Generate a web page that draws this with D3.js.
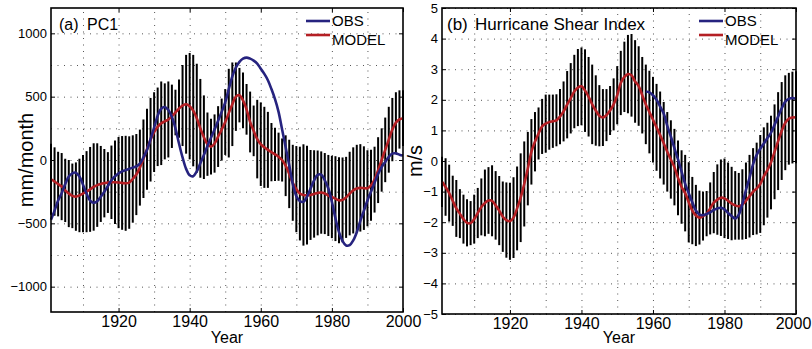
<!DOCTYPE html>
<html>
<head>
<meta charset="utf-8">
<script src="https://cdn.jsdelivr.net/npm/d3@7"></script>
<style>
  body { margin: 0; background: #fff; }
  svg { display: block; }
</style>
</head>
<body>
<svg id="chart" width="812" height="349"></svg>
<script>
// years of the ensemble (one error bar per year)
const YEARS = d3.range(1901, 2001)

// (a) PC1, mm/month
const PC1_MODEL = [
  -152, -170, -190, -210, -240, -265, -283, -289, -280, -265,
  -250, -232, -213, -198, -189, -183, -178, -176, -176, -178,
  -181, -184, -178, -150, -115, -60, 10, 85, 160, 220,
  262, 290, 305, 320, 345, 375, 405, 430, 440, 425,
  390, 330, 250, 180, 125, 105, 130, 185, 240, 300,
  370, 440, 500, 512, 470, 400, 300, 230, 165, 125,
  100, 80, 62, 45, 26, 0, -45, -110, -180, -230,
  -265, -276, -278, -276, -268, -260, -257, -265, -280, -292,
  -305, -318, -315, -295, -265, -240, -225, -220, -222, -223,
  -200, -155, -80, 0, 80, 160, 240, 295, 320, 330
]
const PC1_SPREAD = [
  280, 270, 255, 265, 250, 265, 255, 270, 290, 305,
  320, 335, 345, 330, 300, 270, 240, 290, 330, 360,
  370, 375, 365, 345, 320, 300, 310, 320, 330, 315,
  310, 330, 300, 300, 250, 180, 230, 320, 390, 420,
  440, 430, 390, 330, 250, 220, 230, 240, 245, 260,
  350, 330, 270, 215, 220, 200, 240, 200, 310, 330,
  320, 300, 230, 210, 190, 170, 240, 270, 300, 340,
  370, 400, 390, 355, 345, 335, 325, 320, 320, 325,
  335, 340, 335, 320, 330, 340, 345, 345, 330, 300,
  280, 260, 260, 250, 255, 260, 250, 240, 230, 220
]
const PC1_OBS = [
  -472, -400, -320, -262, -190, -131, -105, -100, -130, -195,
  -265, -320, -338, -325, -290, -250, -205, -160, -128, -105,
  -90, -80, -70, -60, -50, -28, 20, 79, 165, 255,
  350, 405, 418, 395, 341, 250, 130, 20, -70, -120,
  -128, -90, -26, 40, 110, 175, 240, 310, 380, 455,
  560, 660, 730, 775, 800, 808, 800, 785, 761, 720,
  680, 630, 560, 480, 380, 240, 100, -40, -190, -285,
  -325, -330, -290, -225, -160, -118, -115, -160, -225, -330,
  -460, -570, -640, -675, -672, -635, -570, -480, -400, -320,
  -250, -180, -110, -55, -15, 25, 50, 52, 42, 35
]

// (b) Hurricane Shear Index, m/s
const SHEAR_MODEL = [
  -0.68, -0.85, -1.05, -1.3, -1.55, -1.72, -1.9, -2.02, -2.03, -1.9,
  -1.7, -1.5, -1.37, -1.29, -1.3, -1.45, -1.62, -1.82, -1.93, -1.97,
  -1.85, -1.55, -1.2, -0.75, -0.25, 0.3, 0.63, 0.9, 1.13, 1.22,
  1.27, 1.3, 1.33, 1.45, 1.62, 1.84, 2.05, 2.27, 2.4, 2.44,
  2.3, 2.1, 1.85, 1.65, 1.48, 1.42, 1.5, 1.65, 1.85, 2.15,
  2.55, 2.75, 2.84, 2.8, 2.6, 2.45, 2.15, 1.85, 1.6, 1.35,
  1.1, 0.85, 0.58, 0.3, 0.05, -0.2, -0.55, -0.85, -1.05, -1.35,
  -1.62, -1.78, -1.85, -1.8, -1.72, -1.55, -1.36, -1.26, -1.2, -1.22,
  -1.3, -1.39, -1.45, -1.48, -1.42, -1.3, -1.15, -1.0, -0.9, -0.75,
  -0.5, -0.3, -0.05, 0.3, 0.65, 0.98, 1.25, 1.38, 1.42, 1.43
]
const SHEAR_SPREAD = [
  0.82, 0.94, 0.93, 0.82, 0.93, 0.8, 0.8, 0.77, 0.72, 0.8,
  0.82, 0.93, 1.09, 1.09, 1.16, 1.12, 1.13, 1.15, 1.23, 1.26,
  1.32, 1.37, 1.45, 1.39, 1.2, 1.07, 0.97, 0.85, 0.9, 0.95,
  0.9, 0.87, 0.85, 0.9, 0.98, 1.1, 1.15, 1.2, 1.26, 1.27,
  1.35, 1.3, 1.3, 1.15, 1.0, 0.93, 0.85, 0.8, 0.85, 0.95,
  1.05, 1.15, 1.28, 1.35, 1.35, 1.3, 1.25, 1.3, 1.35, 1.4,
  1.42, 1.42, 1.35, 1.3, 1.28, 1.25, 1.22, 1.2, 1.25, 1.31,
  1.1, 1.0, 0.88, 0.8, 0.74, 0.85, 1.0, 1.15, 1.25, 1.3,
  1.25, 1.2, 1.12, 1.09, 1.15, 1.25, 1.35, 1.42, 1.5, 1.6,
  1.6, 1.55, 1.53, 1.55, 1.6, 1.6, 1.55, 1.5, 1.5, 1.5
]
const SHEAR_OBS_YEARS = d3.range(1958, 2001)
const SHEAR_OBS = [
  2.27, 2.24, 2.15, 2.0, 1.78, 1.55, 1.15, 0.8, 0.42, 0.05,
  -0.35, -0.75, -1.05, -1.35, -1.62, -1.75, -1.77, -1.73, -1.68, -1.6,
  -1.55, -1.53, -1.58, -1.7, -1.8, -1.88, -1.75, -1.4, -0.95, -0.55,
  -0.1, 0.2, 0.4, 0.57, 0.75, 0.92, 1.18, 1.45, 1.72, 1.94,
  2.03, 2.06, 2.03
]

const X_TICKS = [1920, 1940, 1960, 1980, 2000]
const X_GRID = [1910, 1920, 1930, 1940, 1950, 1960, 1970, 1980, 1990]
const PC1_TICKS = [-1000, -500, 0, 500, 1000]
const PC1_GRID = [-1000, -750, -500, -250, 0, 250, 500, 750, 1000]
const SHEAR_TICKS = [-5, -4, -3, -2, -1, 0, 1, 2, 3, 4, 5]

const OBS_COLOR = '#26237f'
const MODEL_COLOR = '#b41f24'
const FONT = '"Liberation Sans", Arial, sans-serif'

const svg = d3.select('#chart')
svg.append('rect').attr('width', 812).attr('height', 349).attr('fill', '#fff')

function drawPanel(p) {
  const x = d3.scaleLinear().domain([1901, 2000]).range([p.left, p.right])
  const y = d3.scaleLinear().domain(p.domain).range([p.bottom, p.top])
  const w = p.right - p.left
  const h = p.bottom - p.top
  const g = svg.append('g')

  // dotted grid
  const gridY = g.append('g')
    .attr('transform', `translate(${p.left},0)`)
    .call(d3.axisLeft(y).tickValues(p.gridY).tickSize(-w).tickFormat(''))
  const gridX = g.append('g')
    .attr('transform', `translate(0,${p.bottom})`)
    .call(d3.axisBottom(x).tickValues(X_GRID).tickSize(-h).tickFormat(''))
  ;[gridY, gridX].forEach((gg) => {
    gg.select('.domain').remove()
    gg.selectAll('line')
      .attr('stroke', '#555')
      .attr('stroke-width', 1)
      .attr('stroke-dasharray', '1,5.5')
  })

  // ensemble spread bars
  g.append('g')
    .selectAll('line')
    .data(YEARS.map((yr, i) => ({ yr, m: p.model[i], s: p.spread[i] })))
    .join('line')
    .attr('x1', (d) => x(d.yr))
    .attr('x2', (d) => x(d.yr))
    .attr('y1', (d) => y(d.m + d.s))
    .attr('y2', (d) => y(d.m - d.s))
    .attr('stroke', '#000')
    .attr('stroke-width', 2)

  const line = d3.line()
    .x((d) => x(d[0]))
    .y((d) => y(d[1]))
    .curve(d3.curveCatmullRom)

  g.append('path')
    .datum(YEARS.map((yr, i) => [yr, p.model[i]]))
    .attr('d', line)
    .attr('fill', 'none')
    .attr('stroke', MODEL_COLOR)
    .attr('stroke-width', 2.6)

  g.append('path')
    .datum(p.obsYears.map((yr, i) => [yr, p.obs[i]]))
    .attr('d', line)
    .attr('fill', 'none')
    .attr('stroke', OBS_COLOR)
    .attr('stroke-width', 2.6)

  // box
  g.append('rect')
    .attr('x', p.left)
    .attr('y', p.top)
    .attr('width', w)
    .attr('height', h)
    .attr('fill', 'none')
    .attr('stroke', '#000')
    .attr('stroke-width', 1.6)

  // axes with inward ticks
  const ay = g.append('g')
    .attr('transform', `translate(${p.left},0)`)
    .call(d3.axisLeft(y).tickValues(p.ticksY).tickSize(-4).tickPadding(4).tickFormat(d3.format('d')))
  const ay2 = g.append('g')
    .attr('transform', `translate(${p.right},0)`)
    .call(d3.axisRight(y).tickValues(p.ticksY).tickSize(-4).tickFormat(''))
  const ax = g.append('g')
    .attr('transform', `translate(0,${p.bottom})`)
    .call(d3.axisBottom(x).tickValues(X_TICKS).tickSize(-4).tickPadding(4).tickFormat(d3.format('d')))
  const ax2 = g.append('g')
    .attr('transform', `translate(0,${p.top})`)
    .call(d3.axisTop(x).tickValues(X_TICKS).tickSize(-4).tickFormat(''))
  ;[ay, ay2, ax, ax2].forEach((gg) => {
    gg.select('.domain').remove()
    gg.selectAll('line').attr('stroke', '#000').attr('stroke-width', 1)
    gg.attr('font-family', FONT)
  })
  ay.selectAll('text').attr('font-size', 13).attr('fill', '#000')
  ax.selectAll('text')
    .attr('font-size', 16)
    .attr('fill', '#000')
    .attr('dx', (d) => (d === 2000 ? p.lastDx : 0))

  // axis titles
  g.append('text')
    .attr('x', (p.left + p.right) / 2)
    .attr('y', 343)
    .attr('text-anchor', 'middle')
    .attr('font-family', FONT)
    .attr('font-size', 16)
    .text('Year')

  g.append('text')
    .attr('transform', `translate(${p.ylabelX},${(p.top + p.bottom) / 2}) rotate(-90)`)
    .attr('text-anchor', 'middle')
    .attr('font-family', FONT)
    .attr('font-size', 20)
    .text(p.ylabel)

  // panel title
  g.append('text')
    .attr('x', p.left + p.tagDx)
    .attr('y', 30)
    .attr('font-family', FONT)
    .attr('font-size', p.titleSize)
    .text(p.tag)
  g.append('text')
    .attr('x', p.left + p.titleDx)
    .attr('y', 30)
    .attr('font-family', FONT)
    .attr('font-size', p.titleSize)
    .text(p.title)

  // legend
  const legend = [
    { name: 'OBS', color: OBS_COLOR, ly: 21, ty: 26 },
    { name: 'MODEL', color: MODEL_COLOR, ly: 35, ty: 45 },
  ]
  const lg = g.append('g').attr('transform', `translate(${p.legendX},0)`)
  lg.selectAll('line')
    .data(legend)
    .join('line')
    .attr('x1', 0)
    .attr('x2', 24)
    .attr('y1', (d) => d.ly)
    .attr('y2', (d) => d.ly)
    .attr('stroke', (d) => d.color)
    .attr('stroke-width', 2.6)
  lg.selectAll('text')
    .data(legend)
    .join('text')
    .attr('x', 26)
    .attr('y', (d) => d.ty)
    .attr('font-family', FONT)
    .attr('font-size', 15)
    .text((d) => d.name)
}

drawPanel({
  left: 51, right: 403, top: 8, bottom: 312,
  domain: [-1200, 1200],
  ticksY: PC1_TICKS, gridY: PC1_GRID,
  model: PC1_MODEL, spread: PC1_SPREAD,
  obsYears: YEARS, obs: PC1_OBS,
  ylabel: 'mm/month', ylabelX: 33,
  tag: '(a)', title: 'PC1', tagDx: 8, titleDx: 36, titleSize: 16,
  legendX: 306, lastDx: 0,
})

drawPanel({
  left: 442, right: 796, top: 8, bottom: 314,
  domain: [-5, 5],
  ticksY: SHEAR_TICKS, gridY: SHEAR_TICKS,
  model: SHEAR_MODEL, spread: SHEAR_SPREAD,
  obsYears: SHEAR_OBS_YEARS, obs: SHEAR_OBS,
  ylabel: 'm/s', ylabelX: 422,
  tag: '(b)', title: 'Hurricane Shear Index', tagDx: 5, titleDx: 33, titleSize: 17,
  legendX: 699, lastDx: -3,
})
</script>
</body>
</html>
